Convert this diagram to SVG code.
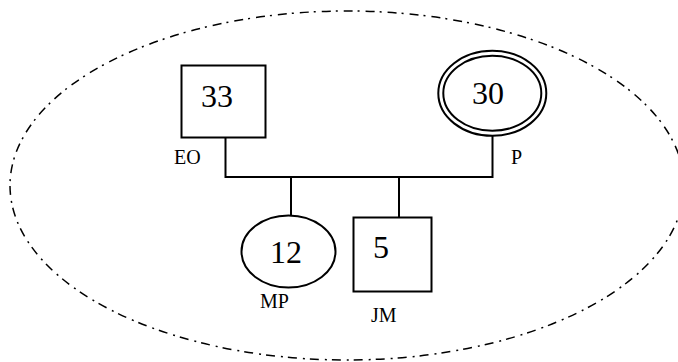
<svg xmlns="http://www.w3.org/2000/svg" width="678" height="362" viewBox="0 0 678 362">
<style>
.ln{fill:none;stroke:#000;stroke-width:2}
.shape{fill:#fff;stroke:#000;stroke-width:2}
.num{font-family:"Liberation Serif","Times New Roman",serif;font-size:32px;fill:#000;text-anchor:middle}
.lbl{font-family:"Liberation Serif","Times New Roman",serif;font-size:20px;fill:#000}
.bound{fill:none;stroke:#000;stroke-width:1.5;stroke-dasharray:9 5 2 6}
</style>
<rect width="678" height="362" fill="#fff"/>
<ellipse id="household" class="bound" cx="347" cy="185.5" rx="337" ry="174.5"/>
<g id="connectors">
<path class="ln" d="M225.5 137.5 V177 H492.5 V133"/>
<path class="ln" d="M291 177 V215"/>
<path class="ln" d="M399 177 V217.5"/>
</g>
<g id="node-EO">
<rect class="shape" x="181.5" y="65.5" width="84" height="72"/>
<text class="num" x="217" y="107">33</text>
<text class="lbl" x="174" y="164">EO</text>
</g>
<g id="node-P">
<ellipse class="shape" cx="492.3" cy="93.3" rx="54" ry="42.5"/>
<ellipse class="shape" cx="492.3" cy="93.3" rx="49" ry="37.5"/>
<text class="num" x="488" y="104">30</text>
<text class="lbl" x="511" y="164">P</text>
</g>
<g id="node-MP">
<ellipse class="shape" cx="288.5" cy="251.5" rx="47" ry="36"/>
<text class="num" x="286" y="263">12</text>
<text class="lbl" x="260" y="308">MP</text>
</g>
<g id="node-JM">
<rect class="shape" x="353.5" y="217.5" width="78" height="74"/>
<text class="num" x="381" y="258">5</text>
<text class="lbl" x="371" y="322">JM</text>
</g>
</svg>
